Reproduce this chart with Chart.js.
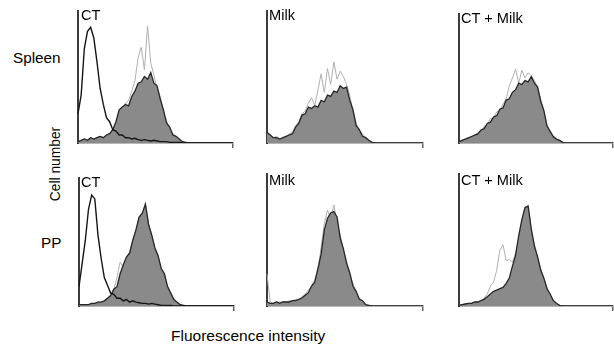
<!DOCTYPE html>
<html>
<head>
<meta charset="utf-8">
<script src="https://cdn.jsdelivr.net/npm/chart.js@4.4.1/dist/chart.umd.min.js"></script>
<style>
  html, body { margin: 0; padding: 0; background: #fff; overflow: hidden; }
  #fig { position: relative; width: 614px; height: 347px; font-family: "Liberation Sans", Arial, sans-serif; color: #000; }
  canvas { position: absolute; }
  .lbl { position: absolute; font-size: 14.6px; line-height: 14px; white-space: nowrap; }
</style>
</head>
<body>
<div id="fig">
  <canvas id="p1" width="159" height="138" style="left:76px;top:10px"></canvas>
  <canvas id="p2" width="160" height="138" style="left:265px;top:10px"></canvas>
  <canvas id="p3" width="158" height="135" style="left:457px;top:13px"></canvas>
  <canvas id="p4" width="159" height="134" style="left:77px;top:177px"></canvas>
  <canvas id="p5" width="160" height="138" style="left:265px;top:173px"></canvas>
  <canvas id="p6" width="158" height="138" style="left:457px;top:173px"></canvas>

  <div class="lbl" style="left:81px;top:8px">CT</div>
  <div class="lbl" style="left:269px;top:8px">Milk</div>
  <div class="lbl" style="left:461px;top:11px">CT + Milk</div>
  <div class="lbl" style="left:81px;top:175px">CT</div>
  <div class="lbl" style="left:269px;top:173px">Milk</div>
  <div class="lbl" style="left:461px;top:173px">CT + Milk</div>

  <div class="lbl" style="left:13px;top:51px;font-size:15.3px">Spleen</div>
  <div class="lbl" style="left:41px;top:236px;font-size:15.3px">PP</div>
  <div class="lbl" style="left:56px;top:164px;font-size:13.8px;transform:translate(-50%,-50%) rotate(-90deg)">Cell number</div>
  <div class="lbl" style="left:171px;top:329px;font-size:15.5px">Fluorescence intensity</div>
</div>
<script>
'use strict'

// fluorescence channels (histogram bins)
let channels = [0,1,2,3,4,5,6,7,8,9,10,11,12,13,14,15,16,17,18,19,20,21,22,23,24,25,26,27,28,29,30,31,32,33,34,35,36,37,38,39,40,41,42,43,44,45,46,47,48,49]

// Spleen - CT
let spleenCtControl = [22,36,71,84,87,79,61,41,29,19,16,10,9,6,6,4,4,3,3.5,2.5,2,2.5,2,1.5,2,1.5,1,1,1,0.5,0.5,0.5,0.5,0,0,0,0,0,0,0,0,0,0,0,0,0,0,0,0,0]
let spleenCtLine = [1,2,3,2,4,3,4,5,4,6,7,10,14,23,26,30,32,39,47,64,72,55,88,60,51,41,35,23,17,10,7,5,3,1,0.5,0,0,0,0,0,0,0,0,0,0,0,0,0,0,0]
let spleenCtFill = [1,2,3,2,4,3,4,5,4,6,7,10,16,25,27,29,28,35,39,45,46,50,48,53,45,43,33,25,15,12,6,5,3,1,0.5,0,0,0,0,0,0,0,0,0,0,0,0,0,0,0]
// Spleen - Milk
let spleenMilkLine = [8,6,4,5,3,4,5,7,8,13,16,22,24,30,34,28,40,52,38,56,44,61,48,54,50,44,36,24,15,9,7,4,2,0.5,0,0,0,0,0,0,0,0,0,0,0,0,0,0,0,0]
let spleenMilkFill = [8,6,4,4,3,4,5,6,7,12,15,21,22,27,26,28,27,32,31,36,35,39,38,43,41,42,32,25,13,10,5,4,2,0.5,0,0,0,0,0,0,0,0,0,0,0,0,0,0,0,0]
// Spleen - CT + Milk
let spleenBothLine = [1,2,3,4,5,6,8,9,13,14,19,19,24,25,30,34,44,50,57,46,56,50,54,52,48,43,34,24,14,8,5,3,2,0.5,0,0,0,0,0,0,0,0,0,0,0,0,0,0,0,0]
let spleenBothFill = [1,2,3,4,5,6,7,10,11,15,16,20,21,26,27,33,34,39,41,46,45,48,47,51,46,43,32,25,13,9,5,3,2,0.5,0,0,0,0,0,0,0,0,0,0,0,0,0,0,0,0]
// PP - CT
let ppCtControl = [15,33,51,75,86,83,55,37,22,16,10,9,6,6,4,5,3,4,3,2.5,2,2,1.5,2,1.5,1,0.5,0.5,0.5,0.5,0,0,0,0,0,0,0,0,0,0,0,0,0,0,0,0,0,0,0,0]
let ppCtLine = [1,1,1,1,2,2,3,3,4,6,9,13,22,34,30,38,42,51,59,69,70,80,64,55,45,39,29,25,15,10,5,3,1,0.5,0,0,0,0,0,0,0,0,0,0,0,0,0,0,0,0]
let ppCtFill = [1,1,1,1,2,2,3,3,4,6,8,13,15,25,32,38,41,51,59,69,72,79,63,55,45,39,29,25,15,10,5,3,1,0.5,0,0,0,0,0,0,0,0,0,0,0,0,0,0,0,0]
// PP - Milk
let ppMilkLine = [24,3,2,3,3,3,3,4,4,5,5,7,9,12,15,20,28,44,62,72,66,76,62,54,42,34,23,17,9,6,4,1,0.5,0,0,0,0,0,0,0,0,0,0,0,0,0,0,0,0,0]
let ppMilkFill = [3,2,2,3,2,3,3,3,4,4,5,6,8,10,15,18,28,39,57,66,70,71,67,51,43,32,25,15,11,5,4,1,0.5,0,0,0,0,0,0,0,0,0,0,0,0,0,0,0,0,0]
// PP - CT + Milk
let ppBothLine = [0.5,1,1.5,2,2,3,3,4,6,9,15,18,27,42,46,34,35,33,40,50,64,74,76,57,46,36,28,20,14,8,5,2,0.5,0,0,0,0,0,0,0,0,0,0,0,0,0,0,0,0,0]
let ppBothFill = [0.5,1,1.5,2,2,3,3,4,5,7,9,11,12,13,14,17,21,30,38,53,65,74,75,58,45,37,27,21,13,9,4,2,0.5,0,0,0,0,0,0,0,0,0,0,0,0,0,0,0,0,0]

let fillGray = '#8a8a8a'
let outlineDark = '#262626'
let lineGray = '#b0b0b0'

function makePanel(id, fillData, lineData, controlData) {
    let datasets = []
    if (controlData) {
        datasets.push({ data: controlData, borderColor: '#151515', borderWidth: 1.4, fill: false, order: 0 })
    }
    datasets.push({ data: fillData, borderColor: outlineDark, borderWidth: 1.3, backgroundColor: fillGray, fill: 'origin', order: 1 })
    datasets.push({ data: lineData, borderColor: lineGray, borderWidth: 1, fill: false, order: 2 })
    let last = channels.length - 1
    return new Chart(document.getElementById(id), {
        type: 'line',
        data: { labels: channels, datasets: datasets },
        options: {
            responsive: false,
            animation: false,
            layout: { padding: { left: 2, right: 2, top: 0, bottom: 0 } },
            plugins: { legend: { display: false }, tooltip: { enabled: false } },
            elements: { point: { radius: 0 }, line: { tension: 0 } },
            scales: {
                x: {
                    offset: false,
                    ticks: { display: false },
                    grid: {
                        drawOnChartArea: false,
                        tickLength: 5,
                        lineWidth: 1.5,
                        color: (ctx) => ctx.index === last ? '#666' : 'rgba(0,0,0,0)'
                    },
                    border: { display: true, color: '#707070', width: 1.5 }
                },
                y: {
                    min: 0,
                    max: 100,
                    ticks: { display: false },
                    grid: { display: false, drawTicks: false },
                    border: { display: true, color: '#3c3c3c', width: 2 }
                }
            }
        }
    })
}

makePanel('p1', spleenCtFill, spleenCtLine, spleenCtControl)
makePanel('p2', spleenMilkFill, spleenMilkLine)
makePanel('p3', spleenBothFill, spleenBothLine)
makePanel('p4', ppCtFill, ppCtLine, ppCtControl)
makePanel('p5', ppMilkFill, ppMilkLine)
makePanel('p6', ppBothFill, ppBothLine)
</script>
</body>
</html>
